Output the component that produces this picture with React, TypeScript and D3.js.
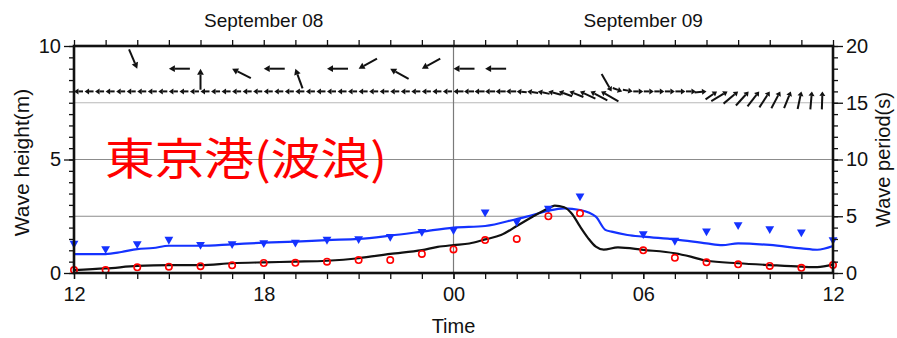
import React, { useEffect, useRef } from 'react';
import * as d3 from 'd3';

// hours counted from Sep 08 12:00
const hourTicks = [0, 6, 12, 18, 24];
const hourLabels = ['12', '18', '00', '06', '12'];
const dayCenters = [6, 18];
const dayLabels = ['September 08', 'September 09'];
const heightTicks = [0, 5, 10];
const periodTicks = [0, 5, 10, 15, 20];

// observed, hourly (null = missing)
const obsHeight = [0.13, 0.13, 0.25, 0.28, 0.3, 0.34, 0.44, 0.45, 0.5, 0.57, 0.57, 0.84, 1.04, 1.45, 1.5, 2.5, 2.63, null, 1.0, 0.67, 0.47, 0.38, 0.31, 0.23, 0.35];
const obsPeriod = [2.5, 2.03, 2.47, 2.85, 2.4, 2.47, 2.55, 2.6, 2.85, 2.9, 3.1, 3.55, 3.7, 5.26, 4.43, 5.6, 6.67, null, 3.35, 2.76, 3.58, 4.14, 3.79, 3.5, 2.82];

// calculated wave height (m)
const calcHeightHours = [0, 1, 2, 3, 4, 5, 6, 7, 8, 9, 10, 11, 11.5, 12, 12.5, 13, 13.5, 14, 14.5, 15, 15.2, 15.5, 15.75, 16, 16.25, 16.5, 16.75, 17.2, 18, 19, 19.5, 20, 21, 22, 23, 23.5, 24];
const calcHeight = [0.13, 0.2, 0.31, 0.35, 0.35, 0.43, 0.47, 0.5, 0.54, 0.65, 0.84, 1.01, 1.15, 1.23, 1.3, 1.48, 1.67, 2.07, 2.48, 2.85, 2.97, 2.9, 2.6, 2.05, 1.55, 1.16, 1.03, 1.13, 1.02, 0.87, 0.72, 0.54, 0.43, 0.35, 0.28, 0.26, 0.38];

// calculated wave period (s)
const calcPeriodHours = [0, 1, 1.5, 2, 2.5, 3, 4, 5, 6, 7, 8, 9, 10, 11, 12, 13, 14, 14.5, 15, 15.5, 16, 16.5, 16.8, 17, 17.5, 18, 19, 20, 20.5, 21, 22, 23, 23.5, 24];
const calcPeriod = [1.67, 1.67, 1.85, 2.11, 2.2, 2.4, 2.4, 2.53, 2.67, 2.76, 2.9, 3.0, 3.29, 3.64, 4.0, 4.14, 4.76, 5.1, 5.49, 5.7, 5.55, 4.96, 3.8, 3.64, 3.35, 3.2, 2.96, 2.61, 2.45, 2.61, 2.47, 2.17, 2.05, 2.38];

// observed wave direction (deg, direction of travel) at whole hours
const obsDirHours = [2, 3, 4, 5, 6, 7, 8, 9, 10, 11, 12, 13];
const obsDir = [157, 270, 0, 297, 270, 340, 270, 241, 299, 241, 270, 270];

// calculated wave direction every 20 minutes from 12:00
const calcDirStep = 1 / 3;
const calcDir = [
  270, 270, 270, 270, 270, 270, 270, 270, 270, 270, 270, 270, 270, 270,
  270, 270, 270, 270, 270, 270, 270, 270, 270, 270, 270, 270, 270, 270,
  270, 270, 270, 270, 270, 270, 270, 270, 270, 270, 270, 270, 270, 270,
  275, 278, 282, 285, 290, 292, 295, 298, 300, 150,
  110, 100, 90, 90, 90, 90, 90, 90, 85, 55,
  59, 50, 42, 38, 33, 28, 22, 12, 5, 2,
];
const calcMag = [
  0.45, 0.45, 0.45, 0.45, 0.45, 0.45, 0.45, 0.45, 0.45, 0.45, 0.45, 0.45, 0.45, 0.45,
  0.45, 0.45, 0.45, 0.45, 0.45, 0.45, 0.45, 0.45, 0.45, 0.45, 0.45, 0.45, 0.45, 0.45,
  0.45, 0.45, 0.45, 0.45, 0.45, 0.45, 0.45, 0.45, 0.5, 0.5, 0.5, 0.5, 0.5, 0.5,
  0.5, 0.55, 0.6, 0.65, 0.7, 0.75, 0.85, 0.95, 1.0, 1.0,
  0.5, 0.5, 0.5, 0.5, 0.5, 0.5, 0.5, 0.5, 0.6, 0.7,
  0.95, 0.95, 0.95, 0.95, 0.95, 0.95, 0.9, 0.9, 0.9, 0.9,
];
const obsArrowRow = 9; // m
const calcArrowRow = 8; // m

const W = 897;
const H = 338;
const FONT = '"Liberation Sans", Arial, Helvetica, sans-serif';

export default function App() {
  const svgRef = useRef<SVGSVGElement | null>(null);

  useEffect(() => {
    if (!svgRef.current) return;
    const svg = d3.select(svgRef.current);
    svg.selectAll('*').remove();

    const margin = { top: 46, right: 64, bottom: 65, left: 74 };
    const x = d3.scaleLinear().domain([0, 24]).range([margin.left, W - margin.right]);
    const yL = d3.scaleLinear().domain([0, 10]).range([H - margin.bottom, margin.top]);
    const yR = d3.scaleLinear().domain([0, 20]).range([H - margin.bottom, margin.top]);
    const arrowLen = d3.scaleLinear().domain([0, 1]).range([0, 20]);

    svg.append('rect').attr('width', W).attr('height', H).attr('fill', '#fff');

    // grid
    const grid = svg.append('g');
    [2.5, 5, 7.5].forEach((v) => {
      grid.append('line')
        .attr('x1', x(0)).attr('x2', x(24))
        .attr('y1', yL(v)).attr('y2', yL(v))
        .attr('stroke', v === 7.5 ? '#b8b8b8' : '#8c8c8c')
        .attr('stroke-width', 1.2);
    });
    grid.append('line')
      .attr('x1', x(12)).attr('x2', x(12))
      .attr('y1', yL(0)).attr('y2', yL(10))
      .attr('stroke', '#7a7a7a')
      .attr('stroke-width', 1.2);

    // station title
    svg.append('text')
      .attr('x', 105)
      .attr('y', 175)
      .attr('fill', '#ff0000')
      .attr('font-family', '"Noto Sans CJK JP", sans-serif')
      .attr('font-size', 44)
      .attr('textLength', 282)
      .attr('lengthAdjust', 'spacingAndGlyphs')
      .text('東京港(波浪)');

    // calculated period (blue) and height (black)
    const periodLine = d3.line<number>()
      .x((_, i) => x(calcPeriodHours[i]))
      .y((d) => yR(d))
      .curve(d3.curveMonotoneX);
    svg.append('path')
      .datum(calcPeriod)
      .attr('d', periodLine)
      .attr('fill', 'none')
      .attr('stroke', '#1432ff')
      .attr('stroke-width', 2.2);

    const heightLine = d3.line<number>()
      .x((_, i) => x(calcHeightHours[i]))
      .y((d) => yL(d))
      .curve(d3.curveMonotoneX);
    svg.append('path')
      .datum(calcHeight)
      .attr('d', heightLine)
      .attr('fill', 'none')
      .attr('stroke', '#111')
      .attr('stroke-width', 2.2);

    // observed period triangles
    svg.append('g')
      .selectAll('path')
      .data(obsPeriod.map((v, i) => ({ h: i, v })).filter((d) => d.v !== null))
      .enter()
      .append('path')
      .attr('transform', (d) => `translate(${x(d.h)},${yR(d.v as number)})`)
      .attr('d', 'M-4.4,-3.8L4.4,-3.8L0,4Z')
      .attr('fill', '#1432ff');

    // observed height circles
    svg.append('g')
      .selectAll('circle')
      .data(obsHeight.map((v, i) => ({ h: i, v })).filter((d) => d.v !== null))
      .enter()
      .append('circle')
      .attr('cx', (d) => x(d.h))
      .attr('cy', (d) => yL(d.v as number))
      .attr('r', 3.2)
      .attr('fill', 'none')
      .attr('stroke', '#ff0000')
      .attr('stroke-width', 1.6);

    // direction arrows (head sits on the row, tail trails behind)
    const drawArrow = (g: any, hx: number, hy: number, deg: number, len: number, headLen: number, headW: number, sw: number) => {
      const a = (deg * Math.PI) / 180;
      const ux = Math.sin(a);
      const uy = -Math.cos(a);
      const tx = hx - ux * len;
      const ty = hy - uy * len;
      const bx = hx - ux * headLen;
      const by = hy - uy * headLen;
      g.append('line')
        .attr('x1', tx).attr('y1', ty)
        .attr('x2', bx).attr('y2', by)
        .attr('stroke', '#111')
        .attr('stroke-width', sw);
      g.append('path')
        .attr('d', `M${hx},${hy}L${bx - uy * headW},${by + ux * headW}L${bx + uy * headW},${by - ux * headW}Z`)
        .attr('fill', '#111');
    };

    const arrows = svg.append('g');
    calcDir.forEach((deg, i) => {
      drawArrow(arrows, x(i * calcDirStep), yL(calcArrowRow), deg, arrowLen(calcMag[i]), 4.5, 3, 2);
    });
    obsDir.forEach((deg, i) => {
      drawArrow(arrows, x(obsDirHours[i]), yL(obsArrowRow), deg, arrowLen(1.05), 6, 3.4, 2);
    });

    // frame
    svg.append('rect')
      .attr('x', x(0)).attr('y', yL(10))
      .attr('width', x(24) - x(0)).attr('height', yL(0) - yL(10))
      .attr('fill', 'none')
      .attr('stroke', '#111')
      .attr('stroke-width', 2.6);

    const styleAxis = (g: any) => {
      g.select('.domain').remove();
      g.selectAll('line').attr('stroke', '#111').attr('stroke-width', 1.3);
      g.selectAll('text').attr('fill', '#111').attr('font-size', 20).attr('font-family', FONT);
    };

    const hours = d3.range(0, 25);
    const halves = d3.range(0, 10.5, 0.5);
    const wholes = d3.range(0, 21, 1);

    // bottom
    svg.append('g')
      .attr('transform', `translate(0,${yL(0)})`)
      .call(d3.axisBottom(x).tickValues(hours).tickSize(6).tickFormat(() => ''))
      .call(styleAxis);
    svg.append('g')
      .attr('transform', `translate(0,${yL(0)})`)
      .call(d3.axisBottom(x).tickValues(hourTicks).tickSize(6).tickPadding(8)
        .tickFormat((_, i) => hourLabels[i]))
      .call(styleAxis);

    // top
    svg.append('g')
      .attr('transform', `translate(0,${yL(10)})`)
      .call(d3.axisTop(x).tickValues(hours).tickSize(6).tickFormat(() => ''))
      .call(styleAxis);
    dayLabels.forEach((t, i) => {
      svg.append('text')
        .attr('x', x(dayCenters[i]))
        .attr('y', 27)
        .attr('text-anchor', 'middle')
        .attr('font-family', FONT)
        .attr('font-size', 19)
        .attr('fill', '#111')
        .text(t);
    });

    // left
    svg.append('g')
      .attr('transform', `translate(${x(0)},0)`)
      .call(d3.axisLeft(yL).tickValues(halves).tickSize(5).tickFormat(() => ''))
      .call(styleAxis);
    svg.append('g')
      .attr('transform', `translate(${x(0)},0)`)
      .call(d3.axisLeft(yL).tickValues(heightTicks).tickSize(10).tickPadding(3))
      .call(styleAxis);

    // right
    svg.append('g')
      .attr('transform', `translate(${x(24)},0)`)
      .call(d3.axisRight(yR).tickValues(wholes).tickSize(5).tickFormat(() => ''))
      .call(styleAxis);
    svg.append('g')
      .attr('transform', `translate(${x(24)},0)`)
      .call(d3.axisRight(yR).tickValues(periodTicks).tickSize(10).tickPadding(3))
      .call(styleAxis);

    // axis titles
    svg.append('text')
      .attr('x', x(12))
      .attr('y', 333)
      .attr('text-anchor', 'middle')
      .attr('font-family', FONT)
      .attr('font-size', 20)
      .attr('fill', '#111')
      .text('Time');
    svg.append('text')
      .attr('transform', `translate(29,${(yL(0) + yL(10)) / 2 + 3}) rotate(-90)`)
      .attr('text-anchor', 'middle')
      .attr('font-family', FONT)
      .attr('font-size', 21)
      .attr('fill', '#111')
      .text('Wave height(m)');
    svg.append('text')
      .attr('transform', `translate(890,${(yL(0) + yL(10)) / 2}) rotate(-90)`)
      .attr('text-anchor', 'middle')
      .attr('font-family', FONT)
      .attr('font-size', 20)
      .attr('fill', '#111')
      .text('Wave period(s)');
  }, []);

  return (
    <div style={{ position: 'absolute', left: 0, top: 0 }}>
      <svg ref={svgRef} width={W} height={H} style={{ display: 'block' }} />
    </div>
  );
}
